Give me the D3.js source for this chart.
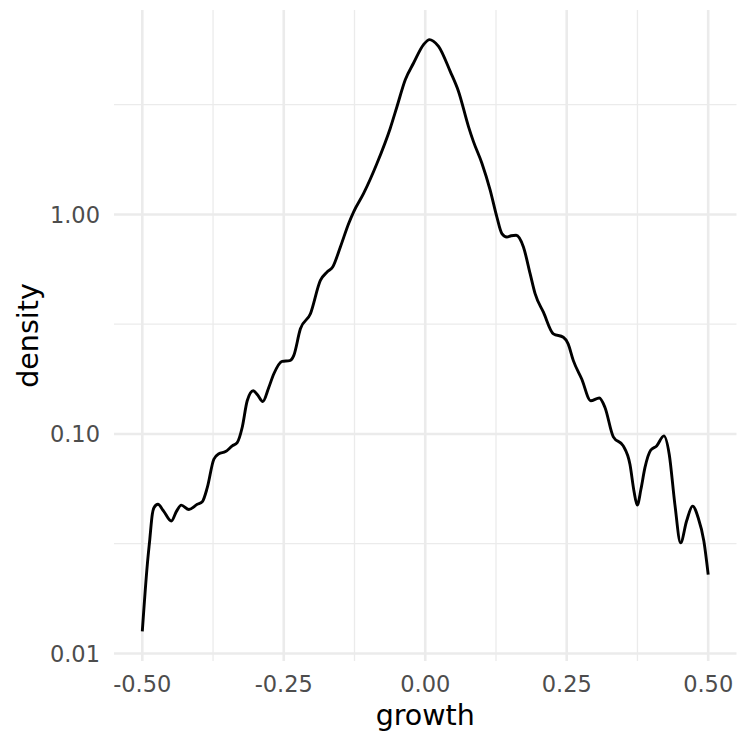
<!DOCTYPE html>
<html><head><meta charset="utf-8">
<script src="https://cdn.jsdelivr.net/npm/d3@7"></script>
<style>body{margin:0;background:#fff}svg{display:block}</style>
</head><body>
<script>
const growth = [-0.5,-0.4911,-0.4867,-0.4823,-0.4794,-0.4724,-0.4623,-0.4487,-0.4394,-0.4311,-0.4177,-0.4029,-0.394,-0.3852,-0.3736,-0.3647,-0.3529,-0.3411,-0.3323,-0.3235,-0.3146,-0.304,-0.2965,-0.2871,-0.2765,-0.2677,-0.2529,-0.2395,-0.2324,-0.2206,-0.2029,-0.1853,-0.1735,-0.1636,-0.15,-0.1353,-0.1265,-0.1089,-0.0852,-0.0618,-0.0499,-0.0353,-0.0206,-0.003,0.0076,0.0141,0.0235,0.0441,0.0588,0.0764,0.0852,0.1001,0.1147,0.1265,0.1354,0.1442,0.1518,0.1606,0.1735,0.1853,0.1941,0.2088,0.2264,0.244,0.2523,0.2617,0.2765,0.2924,0.3076,0.3176,0.3323,0.3499,0.3617,0.3688,0.3746,0.3812,0.3882,0.3983,0.4089,0.4217,0.4311,0.4411,0.4512,0.4618,0.4724,0.4823,0.4923,0.5];
const density = [0.0126,0.02548,0.0332,0.0431,0.0461,0.0478,0.0445,0.0401,0.0445,0.0474,0.0453,0.0478,0.0491,0.0569,0.0767,0.0813,0.0831,0.0882,0.0913,0.107,0.1417,0.1574,0.1509,0.1406,0.1629,0.1876,0.2142,0.2158,0.2275,0.3013,0.3528,0.5009,0.5465,0.576,0.7109,0.9096,1.028,1.247,1.711,2.472,3.103,4.11,4.898,5.94,6.262,6.164,5.834,4.485,3.634,2.514,2.147,1.711,1.291,0.975,0.8186,0.79,0.8,0.804,0.7109,0.5373,0.4355,0.3588,0.2858,0.2758,0.2581,0.2158,0.178,0.1417,0.1458,0.132,0.097,0.0882,0.0728,0.055,0.0474,0.0561,0.0702,0.0843,0.0882,0.098,0.0809,0.0478,0.0319,0.0401,0.0469,0.0415,0.0325,0.02286];
const xTicks = [-0.5,-0.25,0,0.25,0.5];
const xTickLabels = ["-0.50","-0.25","0.00","0.25","0.50"];
const xMinor = [-0.375,-0.125,0.125,0.375];
const yTicks = [0.01,0.1,1];
const yTickLabels = ["0.01","0.10","1.00"];
const yMinor = [Math.sqrt(10)/100, Math.sqrt(10)/10, Math.sqrt(10)];

const W = 738, H = 736;
const L = 114, R = 736.5, T = 10, B = 661;

const svg = d3.select("body").append("svg").attr("width", W).attr("height", H);

const xr = d3.extent(growth), xpad = (xr[1]-xr[0])*0.05;
const x = d3.scaleLinear().domain([xr[0]-xpad, xr[1]+xpad]).range([L, R]);
const ly = d3.extent(density).map(Math.log10), lpad = (ly[1]-ly[0])*0.05;
const y = d3.scaleLog().domain([Math.pow(10, ly[0]-lpad), Math.pow(10, ly[1]+lpad)]).range([B, T]);

const grid = svg.append("g");
grid.selectAll(".ymin").data(yMinor).join("line")
  .attr("x1", L).attr("x2", R).attr("y1", d=>y(d)).attr("y2", d=>y(d))
  .attr("stroke", "#EBEBEB").attr("stroke-width", 1.3);
grid.selectAll(".xmin").data(xMinor).join("line")
  .attr("y1", T).attr("y2", B).attr("x1", d=>x(d)).attr("x2", d=>x(d))
  .attr("stroke", "#EBEBEB").attr("stroke-width", 1.3);
grid.selectAll(".ymaj").data(yTicks).join("line")
  .attr("x1", L).attr("x2", R).attr("y1", d=>y(d)).attr("y2", d=>y(d))
  .attr("stroke", "#EBEBEB").attr("stroke-width", 2.6);
grid.selectAll(".xmaj").data(xTicks).join("line")
  .attr("y1", T).attr("y2", B).attr("x1", d=>x(d)).attr("x2", d=>x(d))
  .attr("stroke", "#EBEBEB").attr("stroke-width", 2.6);

const line = d3.line().x((d,i)=>x(growth[i])).y(d=>y(d)).curve(d3.curveMonotoneX);
svg.append("path").attr("d", line(density)).attr("fill","none")
  .attr("stroke","#000").attr("stroke-width",2.9).attr("stroke-linejoin","round");

const font = "DejaVu Sans, sans-serif";
svg.selectAll(".xt").data(xTicks).join("text")
  .attr("x", d=>x(d)).attr("y", 692).attr("text-anchor","middle")
  .attr("font-family", font).attr("font-size", 22.5).attr("fill","#4D4D4D")
  .text((d,i)=>xTickLabels[i]);
svg.selectAll(".yt").data(yTicks).join("text")
  .attr("x", 100).attr("y", d=>y(d)).attr("dy","0.36em").attr("text-anchor","end")
  .attr("font-family", font).attr("font-size", 22.5).attr("fill","#4D4D4D")
  .text((d,i)=>yTickLabels[i]);
svg.append("text").attr("x", (L+R)/2).attr("y", 725).attr("text-anchor","middle")
  .attr("font-family", font).attr("font-size", 28.5).attr("fill","#000").text("growth");
svg.append("text").attr("transform", `translate(38,${(T+B)/2}) rotate(-90)`).attr("text-anchor","middle")
  .attr("font-family", font).attr("font-size", 28.5).attr("fill","#000").text("density");
</script>
</body></html>
